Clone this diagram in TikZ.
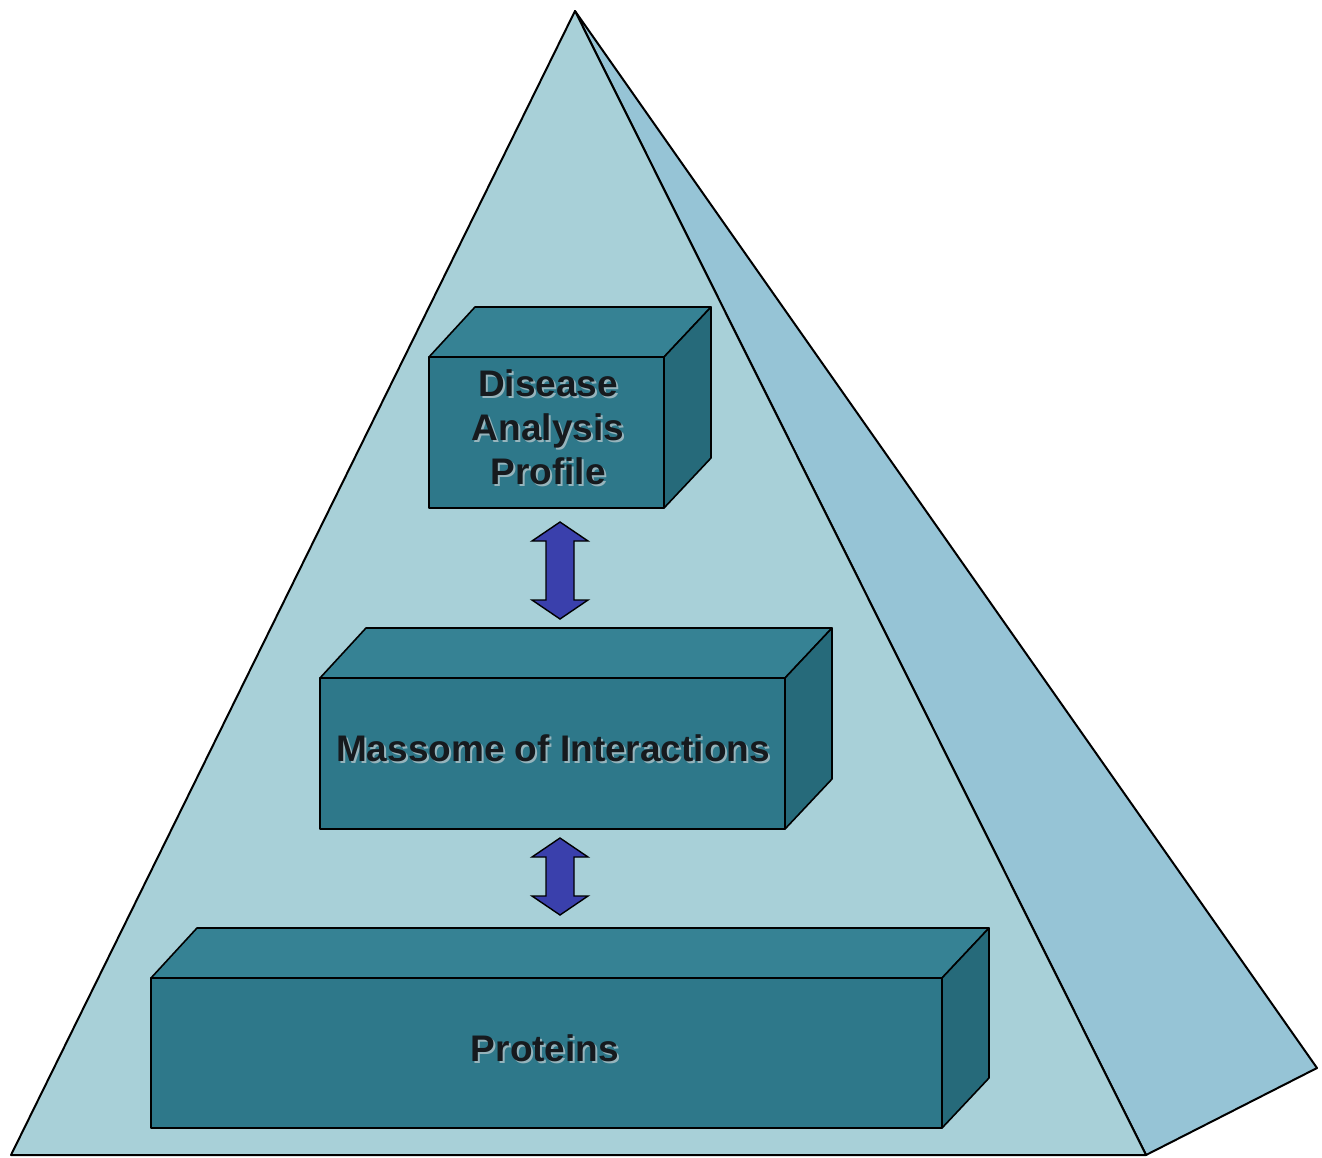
\documentclass[tikz,border=0pt]{standalone}
\usepackage{fontspec}
\setmainfont{Liberation Sans}
\definecolor{pyrfront}{RGB}{168,208,216}
\definecolor{pyrside}{RGB}{150,196,214}
\definecolor{boxfront}{RGB}{46,120,138}
\definecolor{boxtop}{RGB}{54,130,148}
\definecolor{boxside}{RGB}{38,106,122}
\definecolor{arrowblue}{RGB}{58,64,172}
\definecolor{labelink}{RGB}{22,26,30}
\definecolor{shadowink}{RGB}{150,180,188}
\begin{document}
\begin{tikzpicture}[x=0.5pt,y=-0.5pt,
  edge/.style={draw=black, line width=1pt, line join=round},
  face/.style={draw=black, line width=0.8pt, line join=round},
  frontface/.style={face, fill=boxfront, inner sep=0pt, outer sep=0pt},
  textlabel/.style={font=\bfseries\fontsize{18.5}{22}\selectfont, text=labelink, align=center, inner sep=0pt},
  textshadow/.style={textlabel, text=shadowink},
  linkarrow/.style={draw=black, line width=0.7pt, fill=arrowblue, line join=miter}]
\useasboundingbox (0,0) rectangle (1322,1157);

% pyramid
\coordinate (apex) at (575,11);
\coordinate (bl) at (11,1155);
\coordinate (br) at (1146,1155);
\coordinate (rc) at (1317,1068);
\filldraw[edge, fill=pyrside] (apex) -- (br) -- (rc) -- cycle;
\filldraw[edge, fill=pyrfront] (apex) -- (bl) -- (br) -- cycle;

% top and side faces of a box whose front face is node #1
\newcommand\cuboidfaces[1]{%
  \filldraw[face, fill=boxtop] (#1.north west) -- ++(46,-50)
    -- ([shift={(47,-50)}]#1.north east) -- (#1.north east) -- cycle;
  \filldraw[face, fill=boxside] (#1.north east) -- ([shift={(47,-50)}]#1.north east)
    -- ([shift={(47,-50)}]#1.south east) -- (#1.south east) -- cycle;
}

% vertical double arrow: centre x, tip y at top, tip y at bottom
\newcommand\levellink[3]{%
  \filldraw[linkarrow] (#1,#2) -- (#1+28,#2+19) -- (#1+14,#2+19) -- (#1+14,#3-19)
    -- (#1+28,#3-19) -- (#1,#3) -- (#1-28,#3-19) -- (#1-14,#3-19)
    -- (#1-14,#2+19) -- (#1-28,#2+19) -- cycle;
}

% boxes
\node[frontface, minimum width=117.5pt, minimum height=75.5pt] (profile) at (546.5,432.5) {};
\cuboidfaces{profile}
\node[frontface, minimum width=232.5pt, minimum height=75.5pt] (massome) at (552.5,753.5) {};
\cuboidfaces{massome}
\node[frontface, minimum width=395.5pt, minimum height=75pt] (proteins) at (546.5,1053) {};
\cuboidfaces{proteins}

% labels
\node[textshadow] (profile-sh) at (550,429) {Disease\\Analysis\\Profile};
\node[textlabel] (profile-tx) at (548,427) {Disease\\Analysis\\Profile};
\node[textshadow] (massome-sh) at (555,750) {Massome of Interactions};
\node[textlabel] (massome-tx) at (553,748) {Massome of Interactions};
\node[textshadow] (proteins-sh) at (547,1050) {Proteins};
\node[textlabel] (proteins-tx) at (545,1048) {Proteins};

% links between the levels
\levellink{560}{522}{619}
\levellink{560}{838}{915}
\end{tikzpicture}
\end{document}
